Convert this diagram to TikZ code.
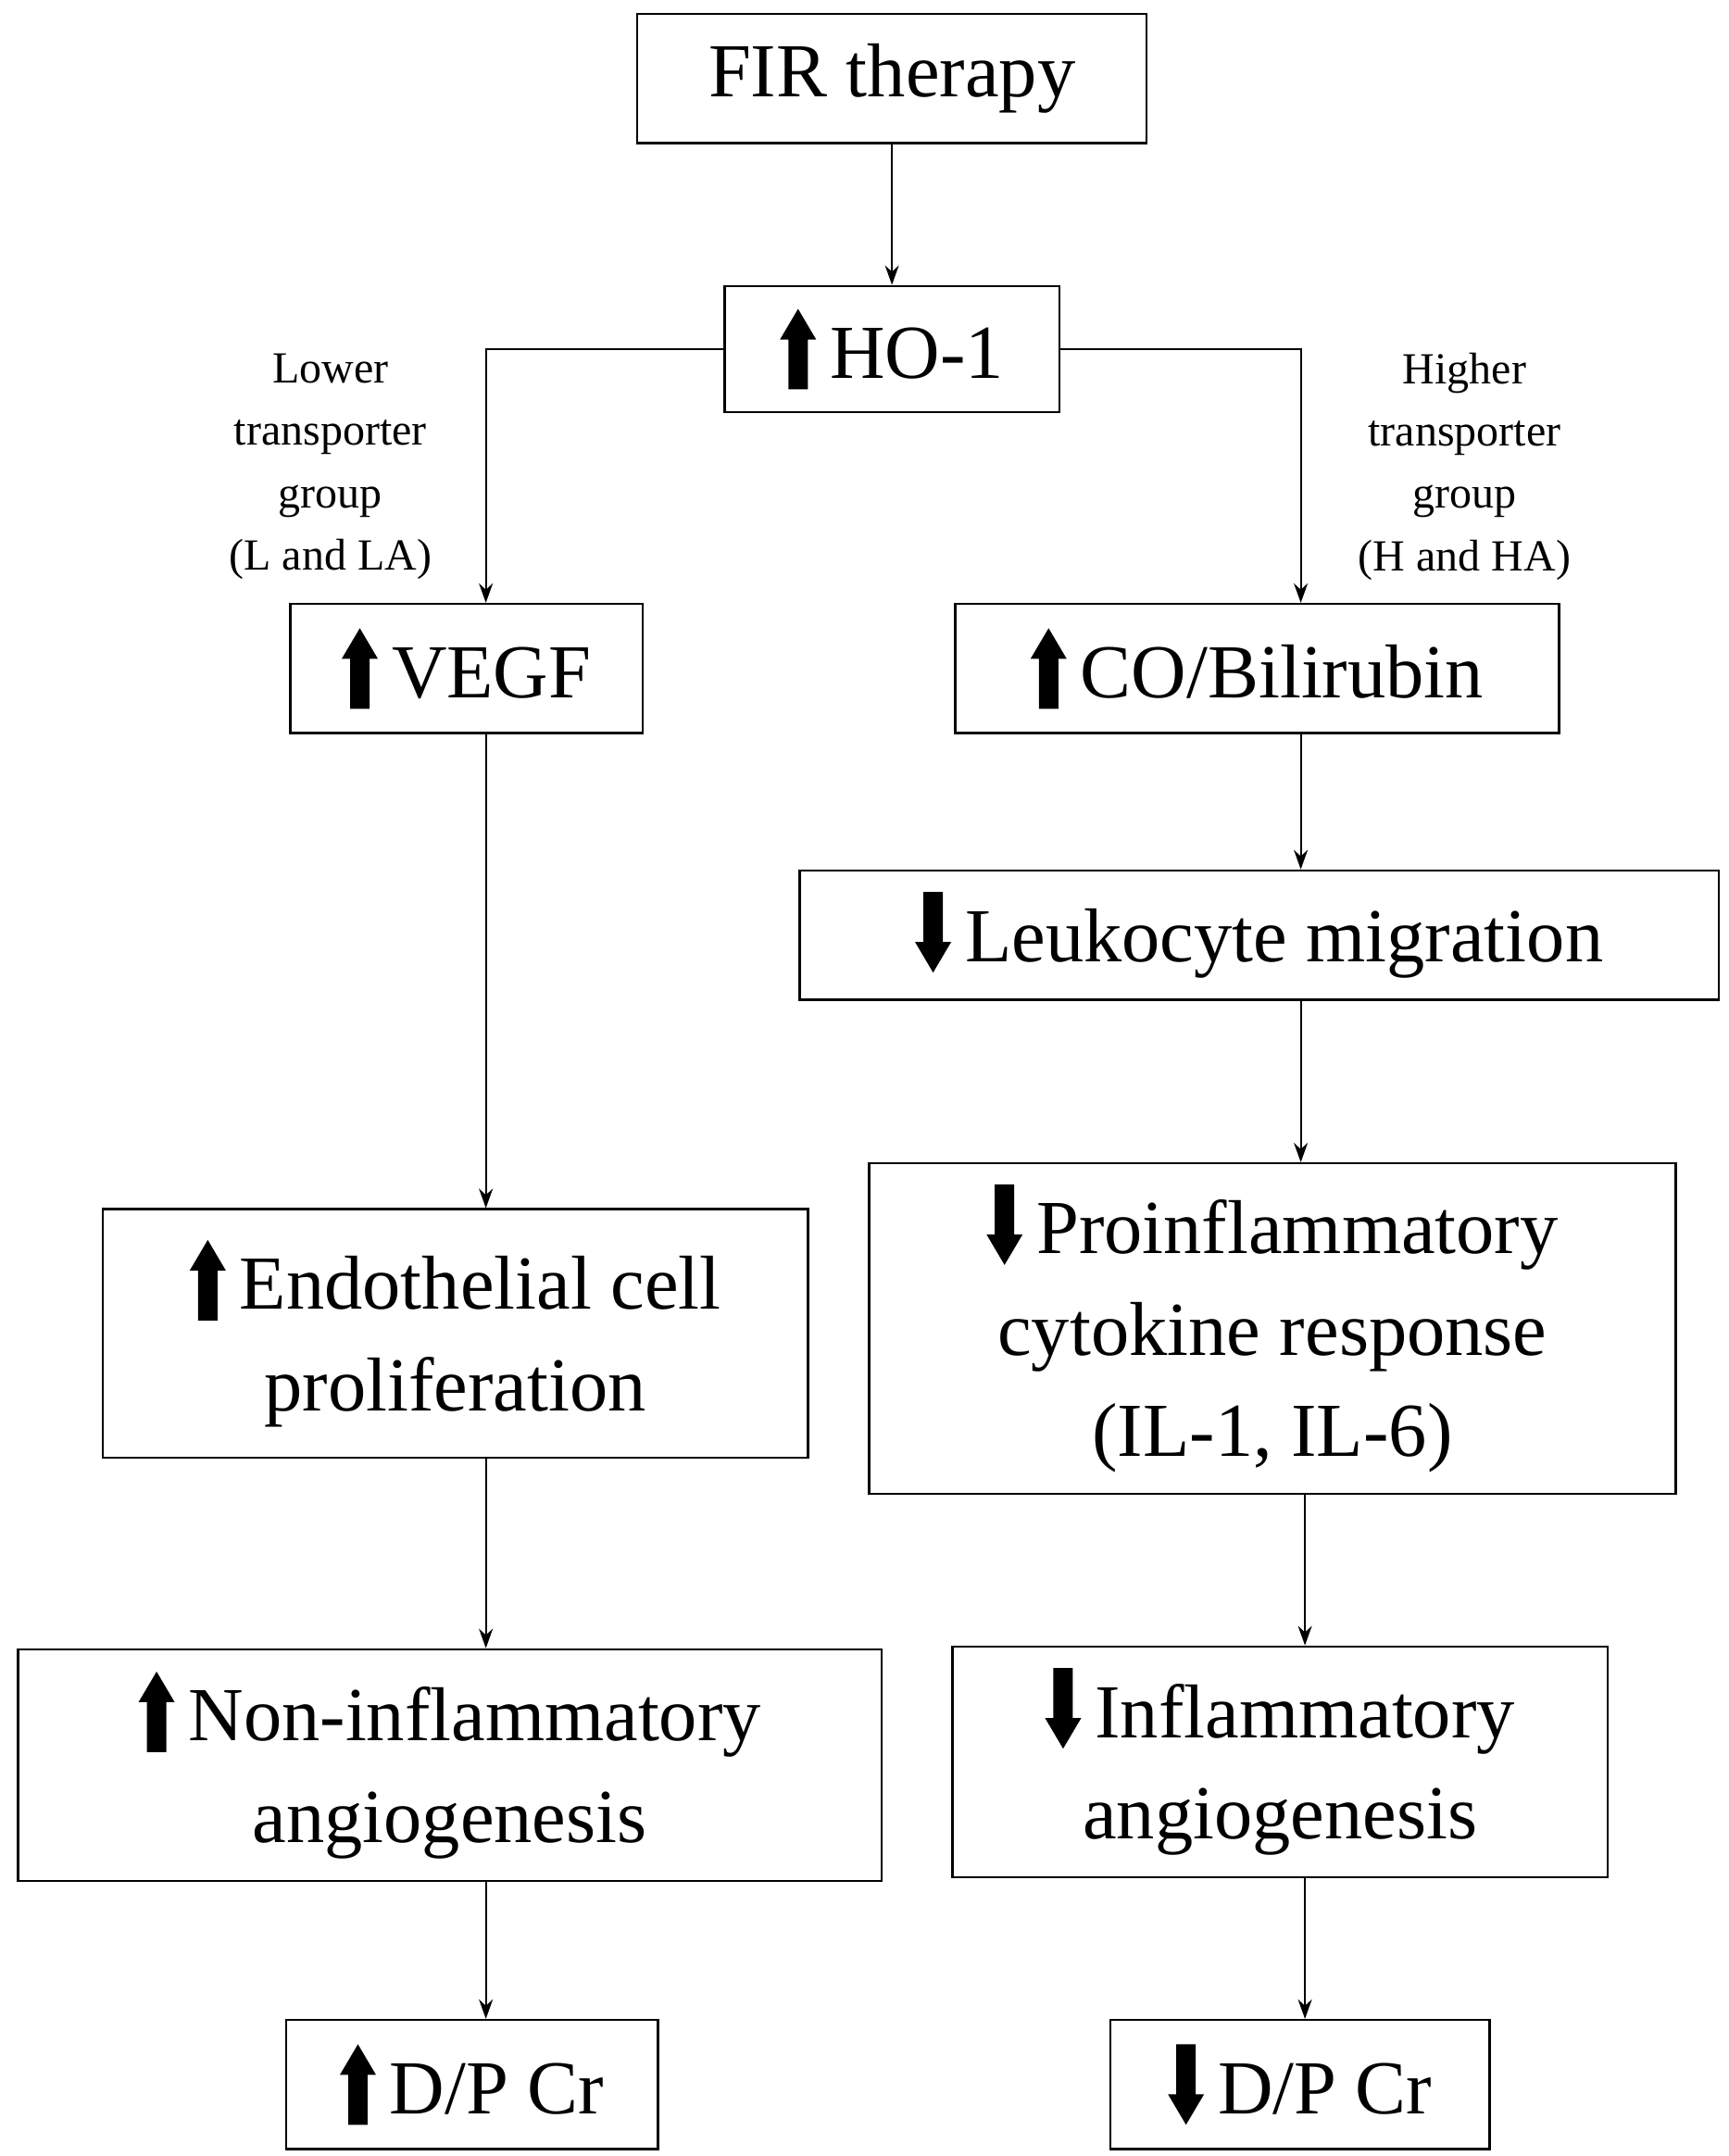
\documentclass[tikz,border=0pt]{standalone}
\usetikzlibrary{arrows.meta}
\usepackage{fontspec}
\setmainfont{Liberation Serif}
\newsavebox\upbox\newsavebox\dnbox
\sbox\upbox{\tikz\fill (-7pt,0)--(-7pt,36pt)--(-13pt,36pt)--(0,58pt)--(13pt,36pt)--(7pt,36pt)--(7pt,0)--cycle;}
\sbox\dnbox{\tikz\fill (-7pt,58pt)--(-7pt,22pt)--(-13pt,22pt)--(0,0)--(13pt,22pt)--(7pt,22pt)--(7pt,58pt)--cycle;}
\newcommand\UP{\raisebox{-8pt}{\usebox\upbox}\hspace{10pt}}
\newcommand\DN{\raisebox{-8pt}{\usebox\dnbox}\hspace{10pt}}
\begin{document}
\begin{tikzpicture}[x=1pt,y=-1pt,
 box/.style={draw,line width=1.6pt,align=center,inner sep=0pt,font=\fontsize{55}{73}\selectfont},
 lab/.style={align=center,font=\fontsize{32}{45}\selectfont},
 arr/.style={-{Stealth[length=14pt,width=10pt]},line width=1.4pt}]
\useasboundingbox (0,0) rectangle (1245,1553);
\newcommand\bx[6]{\node[box,minimum width={#4-#2},minimum height={#5-#3}] (#1) at ({(#2+#4)/2},{(#3+#5)/2}) {#6};}
\bx{fir}{459}{10}{826}{103}{FIR therapy}
\bx{ho}{522}{206}{763}{297}{\UP HO-1}
\bx{vegf}{209}{435}{463}{528}{\UP VEGF}
\bx{co}{688}{435}{1123}{528}{\UP CO/Bilirubin}
\bx{endo}{74}{871}{582}{1050}{\UP Endothelial cell\\proliferation}
\bx{non}{13}{1188}{635}{1355}{\UP Non-inflammatory\\angiogenesis}
\bx{dpl}{206}{1455}{474}{1548}{\UP D/P Cr}
\bx{leu}{576}{627}{1238}{720}{\DN Leukocyte migration}
\bx{pro}{626}{838}{1207}{1076}{\DN Proinflammatory\\cytokine response\\(IL-1, IL-6)}
\bx{inf}{686}{1186}{1158}{1352}{\DN Inflammatory\\angiogenesis}
\bx{dpr}{800}{1455}{1073}{1548}{\DN D/P Cr}
\node[lab] (ll) at (238,336) {Lower\\transporter\\group\\(L and LA)};
\node[lab] (hl) at (1055,336) {Higher\\transporter\\group\\(H and HA)};
\draw[arr] (fir) -- (ho);
\draw[arr] (ho.west) -| (vegf.north -| 350,0);
\draw[arr] (ho.east) -| (co.north -| 937,0);
\draw[arr] (vegf.south -| 350,0) -- (endo.north -| 350,0);
\draw[arr] (endo.south -| 350,0) -- (non.north -| 350,0);
\draw[arr] (non.south -| 350,0) -- (dpl.north -| 350,0);
\draw[arr] (co.south -| 937,0) -- (leu.north -| 937,0);
\draw[arr] (leu.south -| 937,0) -- (pro.north -| 937,0);
\draw[arr] (pro.south -| 940,0) -- (inf.north -| 940,0);
\draw[arr] (inf.south -| 940,0) -- (dpr.north -| 940,0);
\end{tikzpicture}
\end{document}
